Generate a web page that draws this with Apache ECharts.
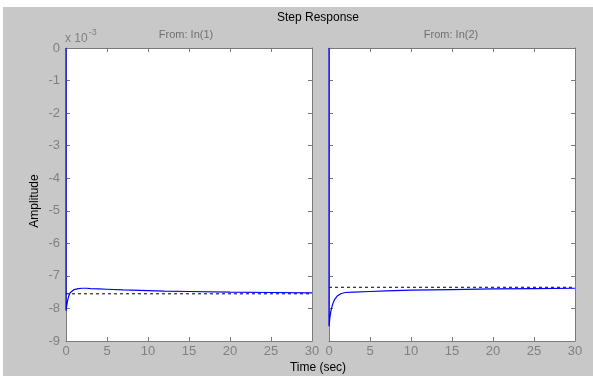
<!DOCTYPE html>
<html><head><meta charset="utf-8">
<script src="https://cdn.jsdelivr.net/npm/echarts@6/dist/echarts.min.js"></script>
<style>html,body{margin:0;padding:0;background:#fff}#c{width:593px;height:376px}</style>
</head><body><div id="c"></div>
<script>
// Step response values (units of 1e-3)
const time1 = [0, 0.001, 0.1, 0.2, 0.3, 0.5, 0.7, 1, 1.5, 2, 2.5, 3, 4, 5, 7, 10, 12, 15, 20, 25, 30];
const in1   = [0, -8.07, -7.9, -7.75, -7.65, -7.52, -7.46, -7.42, -7.39, -7.38, -7.38, -7.39, -7.40, -7.41, -7.43, -7.45, -7.47, -7.48, -7.50, -7.51, -7.52];
const time2 = [0, 0.001, 0.1, 0.2, 0.3, 0.5, 0.7, 1, 1.5, 2, 3, 5, 7, 10, 15, 20, 25, 30];
const in2   = [0, -8.55, -8.3, -8.12, -8.0, -7.83, -7.72, -7.62, -7.54, -7.51, -7.50, -7.48, -7.46, -7.44, -7.42, -7.40, -7.39, -7.38];
const final1 = -7.55;
const final2 = -7.35;
const xRange = [0, 30];
const yRange = [-9, 0];
const panelTitles = ['From: In(1)', 'From: In(2)'];

const chart = echarts.init(document.getElementById('c'), null, {renderer: 'canvas'});
const axisColor = '#7a7a7a';
const font = 'Liberation Sans, Arial, sans-serif';
const grids = [
  {left: 66, top: 48, width: 246, height: 293, show: true, backgroundColor: '#fff', borderWidth: 0},
  {left: 329, top: 48, width: 246, height: 293, show: true, backgroundColor: '#fff', borderWidth: 0}
];
function xAx(g, pos, labels) {
  return {type: 'value', gridIndex: g, position: pos, min: xRange[0], max: xRange[1], interval: 5,
    axisLine: {show: true, onZero: false, lineStyle: {color: axisColor, width: 1}},
    axisTick: {show: true, inside: true, length: 4, lineStyle: {color: axisColor}},
    axisLabel: {show: labels, color: '#808080', fontFamily: font, fontSize: 13, margin: 4},
    splitLine: {show: false}};
}
function yAx(g, pos, labels) {
  return {type: 'value', gridIndex: g, position: pos, min: yRange[0], max: yRange[1], interval: 1,
    axisLine: {show: true, onZero: false, lineStyle: {color: axisColor, width: 1}},
    axisTick: {show: true, inside: true, length: 4, lineStyle: {color: axisColor}},
    axisLabel: {show: labels, color: '#808080', fontFamily: font, fontSize: 13, margin: 6},
    splitLine: {show: false}};
}
const xAxes = [xAx(0, 'bottom', true), xAx(0, 'top', false), xAx(1, 'bottom', true), xAx(1, 'top', false)];
const yAxes = [yAx(0, 'left', true), yAx(0, 'right', false), yAx(1, 'left', false), yAx(1, 'right', false)];

function pairs(t, v) { return t.map((x, i) => [x, v[i]]); }
const series = [
  {type: 'line', xAxisIndex: 0, yAxisIndex: 0, data: [[xRange[0], final1], [xRange[1], final1]], symbol: 'none',
    lineStyle: {color: '#000', width: 1, type: [3, 3]}, animation: false},
  {type: 'line', xAxisIndex: 0, yAxisIndex: 0, data: pairs(time1, in1), symbol: 'none', smooth: false,
    lineStyle: {color: '#0000ff', width: 1.2}, animation: false, clip: false},
  {type: 'line', xAxisIndex: 2, yAxisIndex: 2, data: [[xRange[0], final2], [xRange[1], final2]], symbol: 'none',
    lineStyle: {color: '#000', width: 1, type: [3, 3]}, animation: false},
  {type: 'line', xAxisIndex: 2, yAxisIndex: 2, data: pairs(time2, in2), symbol: 'none', smooth: false,
    lineStyle: {color: '#0000ff', width: 1.2}, animation: false, clip: false}
];

chart.setOption({
  backgroundColor: '#c8c8c8',
  animation: false,
  graphic: [
    {type: 'rect', shape: {x: 0, y: 0, width: 593, height: 7}, style: {fill: '#fff'}, z: 100},
    {type: 'rect', shape: {x: 0, y: 0, width: 3, height: 376}, style: {fill: '#fff'}, z: 100},
    {type: 'text', x: 318, y: 18, style: {text: 'Step Response', fill: '#000', font: '12px ' + font, textAlign: 'center', textVerticalAlign: 'middle'}},
    {type: 'text', x: 186, y: 35, style: {text: panelTitles[0], fill: '#707070', font: '11px ' + font, textAlign: 'center', textVerticalAlign: 'middle'}},
    {type: 'text', x: 451, y: 35, style: {text: panelTitles[1], fill: '#707070', font: '11px ' + font, textAlign: 'center', textVerticalAlign: 'middle'}},
    {type: 'text', x: 65, y: 28, style: {text: '{a|x 10}{b|-3}', fill: '#808080',
      rich: {a: {fontSize: 12, fontFamily: font, color: '#808080', verticalAlign: 'bottom'}, b: {fontSize: 9, fontFamily: font, color: '#808080', verticalAlign: 'top', padding: [0, 0, 8, 1]}}}},
    {type: 'text', x: 35, y: 201, rotation: Math.PI / 2, style: {text: 'Amplitude', fill: '#000', font: '12px ' + font, textAlign: 'center', textVerticalAlign: 'middle'}},
    {type: 'text', x: 318, y: 368, style: {text: 'Time (sec)', fill: '#000', font: '12px ' + font, textAlign: 'center', textVerticalAlign: 'middle'}}
  ],
  grid: grids,
  xAxis: xAxes,
  yAxis: yAxes,
  series: series
});
</script></body></html>
